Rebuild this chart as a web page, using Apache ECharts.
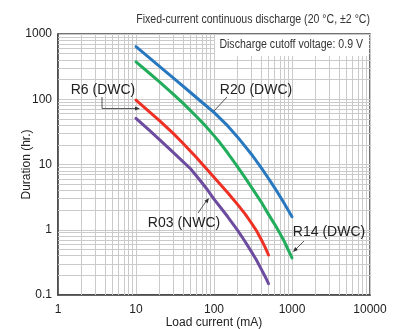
<!DOCTYPE html>
<html>
<head>
<meta charset="utf-8">
<script src="https://cdn.jsdelivr.net/npm/echarts@6/dist/echarts.min.js"></script>
<style>
  html, body { margin: 0; padding: 0; background: #fff; }
  #chart { width: 408px; height: 329px; }
</style>
</head>
<body>
<div id="chart"></div>
<script>
// values (load current in mA, duration in hours)
const r20Current = [10, 15, 20, 30, 50, 70, 100, 150, 200, 300, 400, 500, 600, 700, 800, 1000];
const r20Hours = [640, 426, 318, 212, 127, 90, 63, 39, 26.5, 14.5, 9.05, 6.1, 4.38, 3.26, 2.5, 1.58];

const r14Current = [10, 15, 20, 30, 40, 50, 60, 70, 80, 100, 120, 150, 200, 250, 300, 400, 500, 600, 700, 800, 1000];
const r14Hours = [374, 248, 185, 120, 87, 67, 53.8, 44.6, 37.5, 27.7, 21.3, 15, 9.3, 6.3, 4.55, 2.7, 1.72, 1.21, 0.88, 0.655, 0.37];

const r6Current = [10, 15, 20, 30, 40, 50, 60, 70, 80, 100, 120, 150, 200, 250, 300, 350, 400, 450, 500];
const r6Hours = [97, 63.7, 47, 30, 21.2, 16, 12.7, 10.3, 8.6, 6.4, 5.0, 3.7, 2.45, 1.75, 1.28, 0.97, 0.72, 0.546, 0.41];

const r03Current = [10, 15, 20, 30, 40, 50, 60, 70, 80, 100, 120, 150, 200, 250, 300, 350, 400, 450, 500];
const r03Hours = [51, 33, 24, 15.3, 11.1, 8.6, 6.6, 5.25, 4.29, 2.95, 2.23, 1.58, 0.985, 0.66, 0.466, 0.343, 0.254, 0.194, 0.149];

const xTicks = [1, 10, 100, 1000, 10000];
const yTicks = [0.1, 1, 10, 100, 1000];
const minorSteps = [2, 3, 4, 5, 6, 7, 8, 9];

const pairs = (xs, ys) => xs.map((x, i) => [x, ys[i]]);
const minorOf = (ticks) => ticks.slice(0, -1).flatMap(d => minorSteps.map(m => +(d * m).toPrecision(3)));

const font = '"Liberation Sans", Arial, sans-serif';
const gridGrey = '#cacaca';

const chart = echarts.init(document.getElementById('chart'));

function curve(name, xs, ys, color) {
  return {
    name: name,
    type: 'line',
    data: pairs(xs, ys),
    smooth: false,
    showSymbol: false,
    z: 5,
    lineStyle: { color: color, width: 3, join: 'round', cap: 'round' },
    itemStyle: { color: color }
  };
}

function arrowHead(x, y, angle) {
  // small filled triangle pointing along angle (radians)
  const len = 5, half = 2;
  const c = Math.cos(angle), s = Math.sin(angle);
  return {
    type: 'polygon',
    shape: { points: [
      [x, y],
      [x - len * c + half * s, y - len * s - half * c],
      [x - len * c - half * s, y - len * s + half * c]
    ] },
    style: { fill: '#333' },
    z: 20
  };
}

function leader(points) {
  return { type: 'polyline', shape: { points: points }, style: { stroke: '#333', lineWidth: 0.8, fill: null }, z: 20 };
}

function label(text, x, y) {
  return { type: 'text', x: x, y: y, z: 20,
    style: { text: text, font: '14px ' + font, fill: '#222', textAlign: 'center', textVerticalAlign: 'middle' } };
}

function narrowText(text, x, y) {
  // condensed look: regular face squeezed horizontally around its right edge
  return { type: 'text', x: x, y: y, z: 20, scaleX: 0.88,
    style: { text: text, font: '12px ' + font, fill: '#333', textAlign: 'right', textVerticalAlign: 'middle' } };
}

const option = {
  animation: false,
  grid: {
    left: 58, right: 38, top: 34, bottom: 34,
    outerBoundsMode: 'none',
    show: true, borderColor: '#444', borderWidth: 1.5, backgroundColor: 'transparent'
  },
  xAxis: {
    type: 'log', logBase: 10, min: 1, max: 10000,
    name: 'Load current (mA)', nameLocation: 'middle', nameGap: 22, nameMoveOverlap: false,
    nameTextStyle: { fontFamily: font, fontSize: 12, color: '#222' },
    axisLine: { show: true, lineStyle: { color: '#444', width: 1.5 } },
    axisTick: { show: false },
    axisLabel: { fontFamily: font, fontSize: 12, color: '#222', margin: 9,
      formatter: v => String(xTicks.find(t => Math.abs(t - v) / t < 1e-6) ?? v) },
    splitLine: { show: true, lineStyle: { color: gridGrey, width: 1 } }
  },
  yAxis: {
    type: 'log', logBase: 10, min: 0.1, max: 1000,
    name: 'Duration (hr.)', nameLocation: 'middle', nameGap: 25, nameMoveOverlap: false,
    nameTextStyle: { fontFamily: font, fontSize: 12, color: '#222' },
    axisLine: { show: true, lineStyle: { color: '#444', width: 1.5 } },
    axisTick: { show: false },
    axisLabel: { fontFamily: font, fontSize: 12, color: '#222', margin: 6,
      formatter: v => String(yTicks.find(t => Math.abs(t - v) / t < 1e-6) ?? v) },
    splitLine: { show: true, lineStyle: { color: gridGrey, width: 1 } }
  },
  series: [
    {
      name: 'minor grid',
      type: 'line',
      data: [],
      silent: true,
      z: 1,
      markLine: {
        silent: true,
        symbol: 'none',
        animation: false,
        label: { show: false },
        lineStyle: { color: gridGrey, width: 1, type: 'solid' },
        emphasis: { disabled: true },
        data: minorOf(xTicks).map(v => ({ xAxis: v }))
          .concat(minorOf(yTicks).map(v => ({ yAxis: v })))
      }
    },
    curve('R20 (DWC)', r20Current, r20Hours, '#2878c0'),
    curve('R14 (DWC)', r14Current, r14Hours, '#22ad5c'),
    curve('R6 (DWC)', r6Current, r6Hours, '#ee3124'),
    curve('R03 (NWC)', r03Current, r03Hours, '#6d4c9f')
  ],
  graphic: [
    narrowText('Fixed-current continuous discharge (20 °C, ±2 °C)', 370, 20),
    { type: 'rect', shape: { x: 215, y: 35, width: 154, height: 21 }, style: { fill: '#fff' }, z: 19 },
    narrowText('Discharge cutoff voltage: 0.9 V', 363, 45),
    label('R6 (DWC)', 103, 90),
    leader([[102, 97], [102, 108.5], [137, 108.5]]),
    arrowHead(140, 108.5, 0),
    label('R20 (DWC)', 256, 90),
    leader([[227, 97], [214, 111]]),
    label('R03 (NWC)', 184, 223),
    leader([[198, 213], [207, 200]]),
    arrowHead(209, 198, -0.93),
    label('R14 (DWC)', 329, 232),
    leader([[304, 241], [295, 250]]),
    arrowHead(293, 252, 2.36)
  ]
};

chart.setOption(option);
</script>
</body>
</html>
